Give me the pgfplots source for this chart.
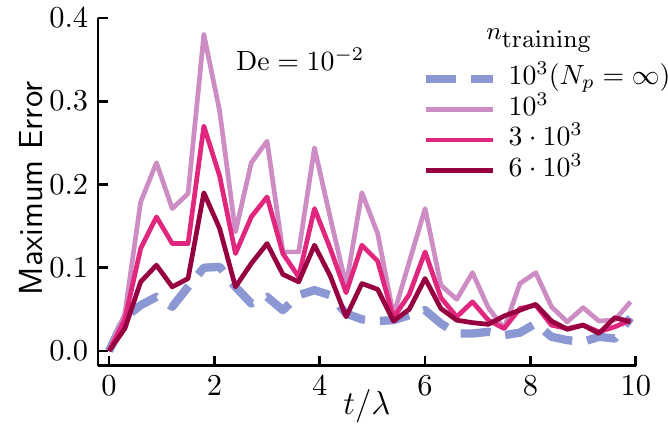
\documentclass[border=0pt]{standalone}
\usepackage{pgfplots}
\pgfplotsset{compat=1.18}
\definecolor{cblue}{HTML}{8B98D3}
\definecolor{clight}{HTML}{CE8CC4}
\definecolor{cpink}{HTML}{E1267D}
\definecolor{cdark}{HTML}{960041}
\pgfplotstableread{
t     blue   light  pink   dark
0.0   0.000  0.000  0.000  0.000
0.3   0.040  0.045  0.038  0.027
0.6   0.055  0.179  0.123  0.083
0.9   0.065  0.226  0.161  0.103
1.2   0.053  0.171  0.129  0.077
1.5   0.077  0.189  0.129  0.087
1.8   0.100  0.380  0.270  0.190
2.1   0.101  0.288  0.210  0.147
2.4   0.077  0.143  0.117  0.077
2.7   0.057  0.226  0.161  0.105
3.0   0.065  0.252  0.185  0.129
3.3   0.049  0.119  0.117  0.092
3.6   0.067  0.119  0.089  0.083
3.9   0.073  0.244  0.171  0.127
4.2   0.067  0.160  0.123  0.090
4.5   0.045  0.079  0.070  0.041
4.8   0.038  0.190  0.127  0.081
5.1   0.036  0.141  0.108  0.074
5.4   0.037  0.043  0.040  0.036
5.7   0.043  0.107  0.068  0.050
6.0   0.049  0.171  0.119  0.087
6.3   0.033  0.079  0.064  0.051
6.6   0.021  0.062  0.041  0.037
6.9   0.021  0.094  0.059  0.034
7.2   0.023  0.052  0.037  0.032
7.5   0.019  0.027  0.027  0.042
7.8   0.022  0.081  0.051  0.049
8.1   0.033  0.094  0.055  0.056
8.4   0.017  0.053  0.031  0.036
8.7   0.013  0.035  0.027  0.026
9.0   0.011  0.052  0.031  0.031
9.3   0.017  0.036  0.023  0.021
9.6   0.015  0.037  0.029  0.040
9.9   0.040  0.059  0.037  0.035
}\datatable
\begin{document}
\begin{tikzpicture}
\useasboundingbox (-35.28pt,-22.07pt) rectangle (205.2pt,131.65pt);
\begin{axis}[
  at={(0,0)}, anchor=south west,
  scale only axis, width=193.6pt, height=125.2pt,
  xmin=-0.21, xmax=10, ymin=-0.0177, ymax=0.4,
  axis x line*=bottom, axis y line*=left,
  axis line style={line width=1pt, black},
  tick align=inside, major tick length=3.6pt,
  tick style={line width=1pt, black},
  xtick={0,2,4,6,8,10}, ytick={0,0.1,0.2,0.3,0.4},
  yticklabel style={/pgf/number format/.cd, fixed, fixed zerofill, precision=1},
  ticklabel style={font=\fontsize{11}{13}\selectfont},
  xlabel={$t/\lambda$}, ylabel={Maximum Error},
  xlabel style={font=\fontsize{12.5}{15}\selectfont, at={(axis description cs:0.5,-0.139)}, anchor=base},
  ylabel style={font=\sffamily\fontsize{12}{14}\selectfont, at={(axis description cs:-0.125,0.51)}, anchor=center},
  legend image code/.code={\draw[#1] (0pt,0pt) -- (23.8pt,0pt);},
  legend cell align=left,
  legend style={at={(0.602,0.870)}, anchor=north west, draw=none, fill=none,
    font=\fontsize{9.7}{12}\selectfont, row sep=0pt, inner sep=0pt,
    nodes={inner sep=0pt, text height=7.5pt, text depth=3.5pt},
    /tikz/every odd column/.append style={column sep=4.3pt}},
  line join=round,
]
\addplot[cblue, line width=3pt, dash pattern=on 10.8pt off 5.4pt] table[x=t, y=blue] {\datatable};
\addlegendentry{$10^3(N_p=\infty)$}
\addplot[clight, line width=1.7pt] table[x=t, y=light] {\datatable};
\addlegendentry{$10^3$}
\addplot[cpink, line width=1.7pt] table[x=t, y=pink] {\datatable};
\addlegendentry{$3\cdot10^3$}
\addplot[cdark, line width=1.7pt] table[x=t, y=dark] {\datatable};
\addlegendentry{$6\cdot10^3$}
\node[anchor=base, font=\fontsize{10}{12}\selectfont] at (axis cs:3.63,0.337) {$\mathrm{De}=10^{-2}$};
\node[anchor=base, font=\fontsize{9.3}{11}\selectfont] at (axis cs:8.17,0.374) {$n_{\textstyle\mathrm{training}}$};
\end{axis}
\end{tikzpicture}
\end{document}
